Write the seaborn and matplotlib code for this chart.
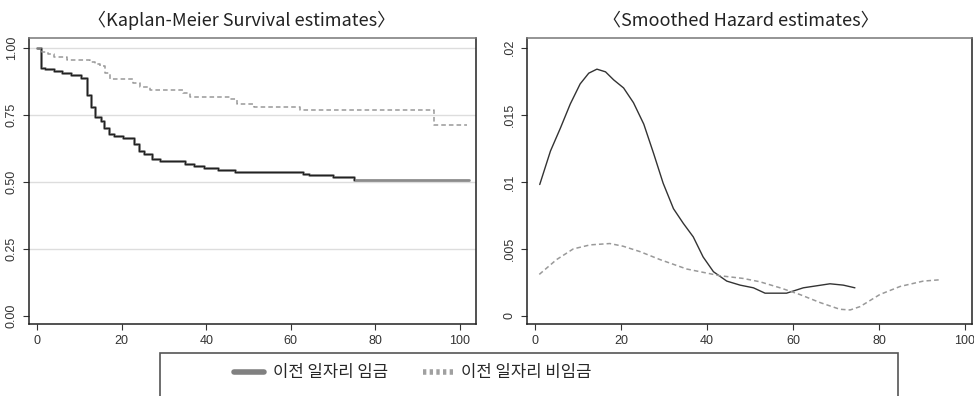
import matplotlib
matplotlib.use("Agg")
import matplotlib.pyplot as plt
import seaborn as sns
import pandas as pd
from matplotlib.patches import Rectangle
from matplotlib.lines import Line2D

# ---------------- data ----------------
titles = ["〈Kaplan-Meier Survival estimates〉", "〈Smoothed Hazard estimates〉"]
legend_labels = ["이전 일자리 임금", "이전 일자리 비임금"]

km_wage_t = [0, 1.0, 2.0, 4.0, 6.0, 8.0, 10.5, 11.9, 12.7, 13.7, 15.1, 15.9, 16.9, 18.3,
             20.4, 23.0, 24.0, 25.2, 27.1, 29.1, 35.0, 37.0, 39.4, 42.9, 46.9, 63.0,
             64.2, 70.1, 74.9, 102.1]
km_wage_s = [1.0, 0.926, 0.920, 0.912, 0.905, 0.899, 0.886, 0.824, 0.778, 0.740, 0.725,
             0.700, 0.679, 0.670, 0.663, 0.642, 0.614, 0.602, 0.585, 0.579, 0.568, 0.558,
             0.552, 0.543, 0.538, 0.531, 0.524, 0.517, 0.507, 0.507]

km_non_t = [0, 1.1, 2.5, 3.9, 7.0, 12.5, 13.7, 14.9, 16.1, 17.3, 22.8, 24.4, 26.7, 34.6,
            36.2, 45.7, 47.3, 51.2, 62.2, 93.8, 101.7]
km_non_s = [1.0, 0.985, 0.975, 0.964, 0.954, 0.948, 0.940, 0.930, 0.905, 0.884, 0.868,
            0.853, 0.843, 0.830, 0.816, 0.808, 0.790, 0.778, 0.766, 0.710, 0.710]

hz_wage_t = [1.1, 3.6, 5.9, 8.2, 10.5, 12.5, 14.4, 16.4, 18.3, 20.6, 22.9, 25.3, 27.6,
             29.8, 32.2, 34.5, 36.8, 39.1, 41.5, 44.6, 47.7, 50.8, 53.5, 58.5, 62.4,
             65.5, 68.6, 71.7, 74.4]
hz_wage_h = [0.0098, 0.0123, 0.0140, 0.0158, 0.0173, 0.0181, 0.0184, 0.0182, 0.0176,
             0.0170, 0.0159, 0.0143, 0.0121, 0.0099, 0.0080, 0.0069, 0.0059, 0.0044,
             0.0033, 0.0026, 0.0023, 0.0021, 0.0017, 0.0017, 0.0021, 0.00225, 0.0024,
             0.0023, 0.0021]

hz_non_t = [1.0, 5.0, 8.9, 12.8, 17.4, 20.5, 24.4, 29.1, 35.3, 43.0, 48.4, 52.3, 57.0,
            61.6, 66.3, 70.9, 73.3, 75.6, 80.2, 84.9, 90.3, 94.2]
hz_non_h = [0.0031, 0.0042, 0.0050, 0.0053, 0.0054, 0.0052, 0.0048, 0.0042, 0.0035,
            0.0030, 0.0028, 0.00255, 0.0021, 0.0016, 0.0010, 0.0005, 0.00045, 0.0007,
            0.0016, 0.0022, 0.0026, 0.0027]

km_yticks = [0.0, 0.25, 0.5, 0.75, 1.0]
km_ylabels = ["0.00", "0.25", "0.50", "0.75", "1.00"]
hz_yticks = [0.0, 0.005, 0.01, 0.015, 0.02]
hz_ylabels = ["0", ".005", ".01", ".015", ".02"]
xticks = [0, 20, 40, 60, 80, 100]

# ---------------- style ----------------
sns.set_style("white")
plt.rcParams["font.family"] = ["Liberation Sans", "Noto Sans CJK KR", "DejaVu Sans"]
kfont = ["Noto Sans CJK KR", "DejaVu Sans"]

W, H = 974, 396
fig = plt.figure(figsize=(W / 100, H / 100), dpi=100)

def px_ax(l, t, r, b):
    return fig.add_axes([l / W, 1 - b / H, (r - l) / W, (b - t) / H])

ax1 = px_ax(29, 38.3, 476, 324.3)
ax2 = px_ax(526.7, 38.3, 972.3, 324.3)

dark = "#222222"
grey = "#8c8c8c"

df_w = pd.DataFrame({"t": km_wage_t, "s": km_wage_s})
df_n = pd.DataFrame({"t": km_non_t, "s": km_non_s})
sns.lineplot(data=df_w, x="t", y="s", ax=ax1, color=grey, lw=2.0,
             drawstyle="steps-post", estimator=None, sort=False)
df_w_early = df_w[df_w["t"] <= 74.9]
sns.lineplot(data=df_w_early, x="t", y="s", ax=ax1, color=dark, lw=0.9,
             drawstyle="steps-post", estimator=None, sort=False)
sns.lineplot(data=df_n, x="t", y="s", ax=ax1, color="#999999", lw=1.1,
             drawstyle="steps-post", estimator=None, sort=False,
             linestyle=(0, (3, 2)))

df_hw = pd.DataFrame({"t": hz_wage_t, "h": hz_wage_h})
df_hn = pd.DataFrame({"t": hz_non_t, "h": hz_non_h})
sns.lineplot(data=df_hw, x="t", y="h", ax=ax2, color="#333333", lw=1.0,
             estimator=None, sort=False)
sns.lineplot(data=df_hn, x="t", y="h", ax=ax2, color="#999999", lw=1.1,
             estimator=None, sort=False, linestyle=(0, (3, 2)))

ax1.set_xlim(-1.9, 103.8)
ax1.set_ylim(-0.031, 1.035)
ax2.set_xlim(-1.93, 101.7)
ax2.set_ylim(-0.00062, 0.0207)

for ax, yt, yl, title, tx in [(ax1, km_yticks, km_ylabels, titles[0], 0.4765),
                              (ax2, hz_yticks, hz_ylabels, titles[1], 0.481)]:
    ax.set_xticks(xticks)
    ax.set_xticklabels([str(v) for v in xticks])
    ax.set_yticks(yt)
    ax.set_yticklabels(yl, rotation=90, va="center")
    ax.set_xlabel("")
    ax.set_ylabel("")
    ax.tick_params(axis="both", direction="out", length=4, width=0.8,
                   color="#333333", labelsize=9, labelcolor="#333333", pad=4,
                   bottom=True, left=True)
    for side in ["left", "bottom", "right", "top"]:
        ax.spines[side].set_visible(True)
        ax.spines[side].set_color("#222222")
        ax.spines[side].set_linewidth(1.1)
    ax.spines["top"].set_color("#777777")
    ax.set_title(title, family=kfont, fontsize=13, color="#222222", pad=9, x=tx)

ax1.yaxis.grid(True, color="#dddddd", lw=1.0)
ax1.set_axisbelow(True)
ax1.get_ygridlines()[0].set_visible(False)
ax2.grid(False)

# legend box
fig.patches.append(Rectangle((160 / W, -0.1), (898 - 160) / W, (1 - 352.7 / H) + 0.1,
                             transform=fig.transFigure, fill=False,
                             edgecolor="#555555", lw=1.2))
handles = [Line2D([], [], color="#808080", lw=4),
           Line2D([], [], color="#a0a0a0", lw=4, linestyle=(0, (0.6, 0.6)))]
fig.legend(handles, legend_labels, loc="center left",
           bbox_to_anchor=(226 / W, 1 - 373 / H), ncol=2, frameon=False,
           borderpad=0, handlelength=1.8, handletextpad=0.5, columnspacing=2.1,
           prop={"family": kfont, "size": 12})

fig.savefig("out.png", dpi=100)
